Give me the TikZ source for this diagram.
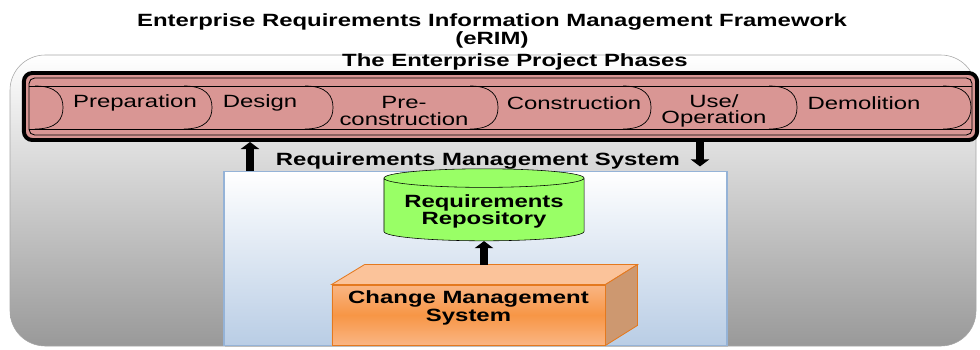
\documentclass[tikz,border=0pt]{standalone}
\usepackage{fontspec}
\setmainfont{Liberation Sans}[FakeStretch=1.35]
\usetikzlibrary{arrows.meta, shapes.geometric, shadows}
\definecolor{phasepink}{HTML}{D99694}
\definecolor{repogreen}{HTML}{99FF66}
\definecolor{rmsblue}{HTML}{B9CDE5}
\definecolor{rmsedge}{HTML}{95B3D7}
\definecolor{cmstop}{HTML}{FBC39A}
\definecolor{cmslight}{HTML}{FAB583}
\definecolor{cmsmid}{HTML}{F79646}
\definecolor{cmsside}{HTML}{CD9870}
\definecolor{cmsedge}{HTML}{E4791F}

\begin{document}
\begin{tikzpicture}[x=0.025cm, y=-0.025cm,
    head/.style={font=\fontsize{12.6}{12.8}\selectfont\bfseries, align=center, inner sep=0pt},
    phase/.style={font=\fontsize{12.6}{11.4}\selectfont, align=center, inner sep=0pt},
    chev/.style={line width=0.5pt},
    blockarrow/.style={line width=5pt, -{Triangle[width=13pt, length=5pt]}},
    phasebar/.style={draw, line width=2.8pt, fill=phasepink, rounded corners=6pt, minimum width=23.825cm, minimum height=1.675cm},
    rmsbox/.style={draw=rmsedge, line width=1.2pt, top color=white, bottom color=rmsblue, minimum width=12.575cm, minimum height=4.35cm, drop shadow={shadow xshift=1pt, shadow yshift=-1pt, opacity=0.3}},
    repo/.style={cylinder, shape border rotate=90, aspect=0.11, draw, fill=repogreen, minimum width=5cm, minimum height=1.8cm, font=\fontsize{12.6}{12.2}\selectfont\bfseries, align=center},
    cmsbox/.style={draw=cmsedge, line width=0.6pt, top color=cmslight, bottom color=cmslight, middle color=cmsmid, minimum width=6.825cm, minimum height=1.5cm}]
    \useasboundingbox (0,0) rectangle (980,349);
    \shade[draw=black!35, top color=white, bottom color=black!40, rounded corners=25pt] (10,55) rectangle (976,346);
    \node[head] (title) at (492,31) {Enterprise Requirements Information Management Framework\\(eRIM)};
    \node[head] (phases) at (515,62) {The Enterprise Project Phases};
    \node[phasebar] (bar) at (500.5,106.5) {};
    \draw[line width=0.6pt, rounded corners=4pt] (29,78) rectangle (972,135);
    \draw[chev] (29,86) -- (972,86);
    \draw[chev] (29,129) -- (972,129);
    \foreach \x in {63,212,333,498,651,797,971}
        \draw[chev] (\x-28,86) .. controls (\x-6,86) and (\x,96) .. (\x,107.5) .. controls (\x,119) and (\x-6,129) .. (\x-28,129);
    \node[phase] (prep) at (135,103) {Preparation};
    \node[phase] (design) at (260,103) {Design};
    \node[phase] (precons) at (404,111) {Pre-\\construction};
    \node[phase] (cons) at (574,103) {Construction};
    \node[phase] (use) at (714,111) {Use/\\Operation};
    \node[phase] (demo) at (864,103) {Demolition};
    \node[head] (rms) at (478,161) {Requirements Management System};
    \node[rmsbox] (rmsframe) at (475.5,258.5) {};
    \coordinate (upx) at (250,0);
    \coordinate (downx) at (700,0);
    \draw[blockarrow] (rmsframe.north -| upx) -- (bar.south -| upx);
    \draw[blockarrow] (bar.south -| downx) -- ([yshift=3pt]rmsframe.north -| downx);
    \node[repo] (repo) at (484,211) {Requirements\\Repository};
    \node[cmsbox] (cms) at (468.5,315) {};
    \fill[cmstop, draw=cmsedge, line width=0.6pt] (cms.north west) -- ++(33,-20) -- ([shift={(32,-20)}]cms.north east) -- (cms.north east) -- cycle;
    \fill[cmsside, draw=cmsedge, line width=0.6pt] (cms.north east) -- ++(32,-20) -- ([shift={(32,-20)}]cms.south east) -- (cms.south east) -- cycle;
    \node[head] (cmstext) at ([yshift=5pt]cms.center) {Change Management\\System};
    \draw[blockarrow] (cms.north -| repo.south) ++(0,-20) -- (repo.south);
\end{tikzpicture}
\end{document}
